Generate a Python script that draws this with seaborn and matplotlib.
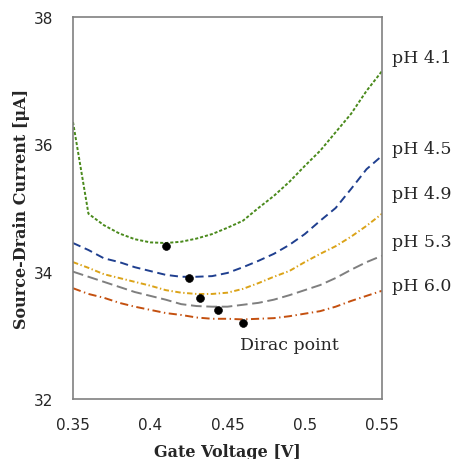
import numpy as np
import pandas as pd
import matplotlib
matplotlib.use("Agg")
import matplotlib.pyplot as plt
import seaborn as sns

# gate voltage grid [V]
gate_v = [0.35, 0.36, 0.37, 0.38, 0.39, 0.40, 0.41, 0.42, 0.43, 0.44, 0.45,
          0.46, 0.47, 0.48, 0.49, 0.50, 0.51, 0.52, 0.53, 0.54, 0.55]

# source-drain current [uA] for each pH
ph41 = [36.35, 34.91, 34.73, 34.60, 34.51, 34.46, 34.45, 34.47, 34.52, 34.59, 34.69,
        34.80, 35.00, 35.19, 35.41, 35.66, 35.90, 36.19, 36.48, 36.84, 37.15]
ph45 = [34.45, 34.34, 34.21, 34.15, 34.07, 34.01, 33.95, 33.92, 33.92, 33.93, 33.98,
        34.07, 34.17, 34.28, 34.42, 34.59, 34.80, 35.00, 35.30, 35.61, 35.82]
ph49 = [34.15, 34.06, 33.96, 33.90, 33.84, 33.78, 33.71, 33.67, 33.65, 33.65, 33.67,
        33.73, 33.82, 33.92, 34.01, 34.15, 34.28, 34.40, 34.55, 34.72, 34.91]
ph53 = [34.00, 33.92, 33.84, 33.76, 33.68, 33.62, 33.56, 33.49, 33.46, 33.45, 33.45,
        33.48, 33.51, 33.56, 33.63, 33.71, 33.79, 33.90, 34.03, 34.15, 34.25]
ph60 = [33.74, 33.65, 33.59, 33.51, 33.45, 33.40, 33.35, 33.32, 33.28, 33.26, 33.26,
        33.25, 33.26, 33.27, 33.30, 33.34, 33.38, 33.45, 33.54, 33.62, 33.70]

ph_labels = ["pH 4.1", "pH 4.5", "pH 4.9", "pH 5.3", "pH 6.0"]

# Dirac points
dirac_v = [0.41, 0.425, 0.432, 0.444, 0.46]
dirac_i = [34.40, 33.90, 33.59, 33.40, 33.19]

colors = {"pH 4.1": "#4a8a1c", "pH 4.5": "#1f3f8f", "pH 4.9": "#dba318",
          "pH 5.3": "#7f7f7f", "pH 6.0": "#c4500f"}
dashes = {"pH 4.1": (1.6, 1.0), "pH 4.5": (4.2, 2.4), "pH 4.9": (2.8, 1.3, 0.7, 1.3),
          "pH 5.3": (5.5, 2.4), "pH 6.0": (4.2, 1.8, 0.7, 1.8)}

curves = [ph41, ph45, ph49, ph53, ph60]
df = pd.concat([pd.DataFrame({"V": gate_v, "I": c, "pH": lab})
                for c, lab in zip(curves, ph_labels)])
dots = pd.DataFrame({"V": dirac_v, "I": dirac_i})

sns.set_style("white")
plt.rcParams["font.family"] = ["DejaVu Sans"]

fig = plt.figure(figsize=(4.54, 4.6), dpi=100)
ax = fig.add_axes([73 / 454, 60 / 460, 309 / 454, 382 / 460])

sns.lineplot(data=df, x="V", y="I", hue="pH", style="pH", palette=colors,
             dashes=dashes, linewidth=1.4, legend=False, ax=ax)
sns.scatterplot(data=dots, x="V", y="I", color="black", s=32, edgecolor="black",
                zorder=5, ax=ax)

ax.set_xlim(0.35, 0.55)
ax.set_ylim(32, 38)
ax.set_xticks([0.35, 0.4, 0.45, 0.5, 0.55])
ax.set_xticklabels(["0.35", "0.4", "0.45", "0.5", "0.55"])
ax.set_yticks([32, 34, 36, 38])
ax.tick_params(axis="both", direction="in", length=4, color="#808080",
               labelsize=11, width=0.8)
ax.tick_params(axis="x", pad=13)
ax.tick_params(axis="y", pad=14)
for s in ax.spines.values():
    s.set_color("#808080")
    s.set_linewidth(1.2)

serif = ["DejaVu Serif"]
ax.set_xlabel("Gate Voltage [V]", family=serif, fontsize=11.5, fontweight="bold",
              labelpad=8)
ax.set_ylabel("Source-Drain Current [μA]", family=serif, fontsize=11.5,
              fontweight="bold", labelpad=3)

label_y = [37.37, 35.93, 35.22, 34.48, 33.78]
for lab, yy in zip(ph_labels, label_y):
    ax.text(0.5565, yy, lab, family=serif, fontsize=12.5, va="center", ha="left",
            clip_on=False)
ax.text(0.458, 32.86, "Dirac point", family=serif, fontsize=12.5, va="center", ha="left")

fig.savefig("out.png", dpi=100)
